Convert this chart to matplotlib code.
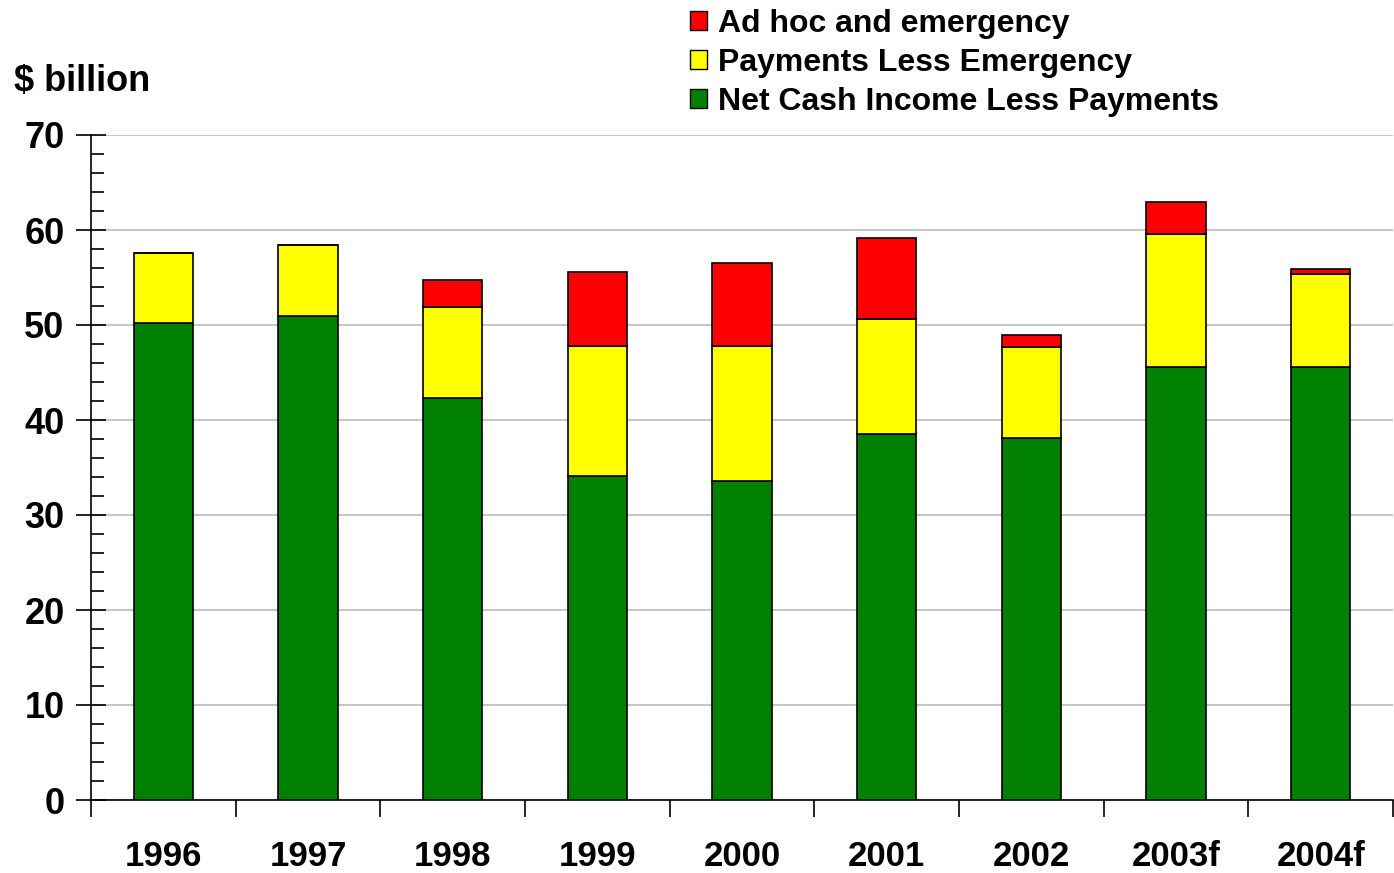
import matplotlib.pyplot as plt
import numpy as np
from matplotlib.patches import Patch

plt.rcParams['font.family'] = ['Liberation Sans', 'DejaVu Sans']
plt.rcParams['font.weight'] = 'bold'

years = ['1996', '1997', '1998', '1999', '2000', '2001', '2002', '2003f', '2004f']
net_cash = [50.2, 50.9, 42.3, 34.1, 33.6, 38.5, 38.1, 45.6, 45.6]
payments = [7.4, 7.5, 9.6, 13.7, 14.2, 12.1, 9.6, 14.0, 9.8]
adhoc = [0.0, 0.0, 2.8, 7.8, 8.7, 8.6, 1.2, 3.3, 0.5]

fig = plt.figure(figsize=(13.94, 8.73), dpi=100)
ax = fig.add_axes([91/1394, 73/873, 1302/1394, 665/873])

x = np.arange(len(years))
w = 0.41
green = '#008000'
yellow = '#ffff00'
red = '#ff0000'
ax.bar(x, net_cash, w, color=green, edgecolor='black', linewidth=1.2, zorder=3)
ax.bar(x, payments, w, bottom=net_cash, color=yellow, edgecolor='black', linewidth=1.2, zorder=3)
bottom2 = np.array(net_cash) + np.array(payments)
ax.bar(x, adhoc, w, bottom=bottom2, color=red, edgecolor='black', linewidth=1.2, zorder=3)

ax.set_xlim(-0.5, len(years) - 0.5)
ax.set_ylim(0, 70)
ax.set_yticks(range(0, 71, 10))
ax.set_yticks(range(0, 71, 2), minor=True)
ax.yaxis.grid(True, color='#c8c8c8', linewidth=1.5, zorder=0)
ax.tick_params(axis='y', which='major', direction='inout', length=22, width=1.2,
               labelsize=26, pad=8)
ax.tick_params(axis='y', which='minor', direction='in', length=9, width=1.2)

ax.set_xticks(np.arange(-0.5, len(years), 1.0))
ax.set_xticklabels([])
ax.set_xticks(x, minor=True)
ax.set_xticklabels(years, minor=True, fontsize=25)
ax.tick_params(axis='x', which='major', direction='out', length=12, width=1.2)
ax.tick_params(axis='x', which='minor', length=0, pad=29)

for s in ['top', 'right']:
    ax.spines[s].set_visible(False)
for s in ['left', 'bottom']:
    ax.spines[s].set_linewidth(1.2)

fig.text(14/1394, 1 - 81/873, '$ billion', fontsize=26, va='center', ha='left')

handles = [Patch(facecolor=red, edgecolor='black', label='Ad hoc and emergency'),
           Patch(facecolor=yellow, edgecolor='black', label='Payments Less Emergency'),
           Patch(facecolor=green, edgecolor='black', label='Net Cash Income Less Payments')]
fig.legend(handles=handles, loc='upper left', bbox_to_anchor=(677/1394, 1 + 4/873),
           frameon=False, fontsize=23, handlelength=0.55, handleheight=0.55,
           handletextpad=0.33, labelspacing=0.28, borderaxespad=0)

fig.savefig('out.png', dpi=100)
